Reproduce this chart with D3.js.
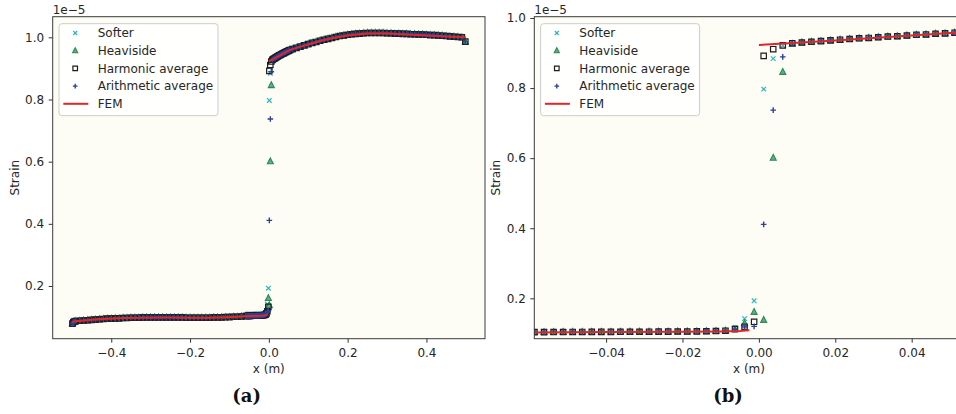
<!DOCTYPE html>
<html>
  <head>
    <meta charset="utf-8" />
    <title>Strain across the interface</title>
    <style>
      body { margin: 0; background: #fff; }
      svg { display: block; font-family: "DejaVu Sans", sans-serif; }
    </style>
  </head>
  <body>
    <svg id="chart" width="956" height="414"></svg>
    <script src="https://d3js.org/d3.v7.min.js"></script>
    <script>
      // strain values are in units of 1e-5 (shown by the offset text)
      const seriesNames = ["Softer", "Heaviside", "Harmonic average", "Arithmetic average", "FEM"];

      // cell values where the four schemes coincide (left material)
      const sharedLeft = [
        [-0.49875, 0.079], [-0.49625, 0.084], [-0.49375, 0.086], [-0.49, 0.087], [-0.48, 0.088],
        [-0.47, 0.089], [-0.46, 0.09], [-0.45, 0.091], [-0.44, 0.092], [-0.43, 0.093],
        [-0.42, 0.094], [-0.41, 0.095], [-0.4, 0.095], [-0.39, 0.096], [-0.38, 0.096],
        [-0.37, 0.097], [-0.36, 0.097], [-0.35, 0.098], [-0.34, 0.098], [-0.33, 0.098],
        [-0.32, 0.099], [-0.31, 0.099], [-0.3, 0.099], [-0.29, 0.099], [-0.28, 0.099],
        [-0.27, 0.099], [-0.26, 0.099], [-0.25, 0.099], [-0.24, 0.099], [-0.23, 0.099],
        [-0.22, 0.099], [-0.21, 0.098], [-0.2, 0.098], [-0.19, 0.098], [-0.18, 0.098],
        [-0.17, 0.098], [-0.16, 0.098], [-0.15, 0.098], [-0.14, 0.099], [-0.13, 0.099],
        [-0.12, 0.099], [-0.11, 0.1], [-0.1, 0.1], [-0.09, 0.101], [-0.08, 0.101],
        [-0.07, 0.102],
        [-0.05875, 0.1035], [-0.05625, 0.1036], [-0.05375, 0.1037], [-0.05125, 0.1038],
        [-0.04875, 0.1039], [-0.04625, 0.104], [-0.04375, 0.1041], [-0.04125, 0.1042],
        [-0.03875, 0.1043], [-0.03625, 0.1044], [-0.03375, 0.1045], [-0.03125, 0.1046],
        [-0.02875, 0.1047], [-0.02625, 0.1048], [-0.02375, 0.105], [-0.02125, 0.1052],
        [-0.01875, 0.1054], [-0.01625, 0.1057], [-0.01375, 0.106], [-0.01125, 0.1065],
        [-0.00875, 0.1075]
      ];

      // cell values where the four schemes coincide (right material)
      const sharedRight = [
        [0.01125, 0.93], [0.01375, 0.932], [0.01625, 0.934], [0.01875, 0.936],
        [0.02125, 0.938], [0.02375, 0.94], [0.02625, 0.942], [0.02875, 0.943],
        [0.03125, 0.945], [0.03375, 0.947], [0.03625, 0.948], [0.03875, 0.95],
        [0.04125, 0.952], [0.04375, 0.953], [0.04625, 0.955], [0.04875, 0.956],
        [0.05125, 0.958], [0.05375, 0.959],
        [0.06, 0.962], [0.07, 0.966], [0.08, 0.97], [0.09, 0.974], [0.1, 0.978],
        [0.11, 0.982], [0.12, 0.985], [0.13, 0.989], [0.14, 0.992], [0.15, 0.995],
        [0.16, 0.998], [0.17, 1.001], [0.18, 1.004], [0.19, 1.006], [0.2, 1.008],
        [0.21, 1.01], [0.22, 1.011], [0.23, 1.012], [0.24, 1.013], [0.25, 1.014],
        [0.26, 1.014], [0.27, 1.014], [0.28, 1.014], [0.29, 1.014], [0.3, 1.013],
        [0.31, 1.013], [0.32, 1.012], [0.33, 1.012], [0.34, 1.011], [0.35, 1.011],
        [0.36, 1.01], [0.37, 1.01], [0.38, 1.009], [0.39, 1.009], [0.4, 1.008],
        [0.41, 1.007], [0.42, 1.007], [0.43, 1.006], [0.44, 1.005], [0.45, 1.004],
        [0.46, 1.003], [0.47, 1.002], [0.48, 1.001], [0.49, 1.0], [0.49875, 0.986]
      ];

      // cells next to the interface, where the schemes differ
      const interfaceX = [-0.00625, -0.00375, -0.00125, 0.00125, 0.00375, 0.00625, 0.00875];
      const softerNear = [0.117, 0.142, 0.193, 0.797, 0.884, 0.921, 0.927];
      const heavisideNear = [0.112, 0.129, 0.161, 0.138, 0.601, 0.846, 0.926];
      const harmonicNear = [0.112, 0.119, 0.133, 0.892, 0.911, 0.922, 0.928];
      const arithmeticNear = [0.111, 0.118, 0.12, 0.411, 0.737, 0.889, 0.927];

      // FEM reference solution, two pieces either side of x = 0
      const femLeft = [
        [-0.5, 0.084], [-0.49, 0.087], [-0.47, 0.089], [-0.44, 0.092], [-0.41, 0.095],
        [-0.37, 0.097], [-0.32, 0.098], [-0.26, 0.0985], [-0.2, 0.098], [-0.15, 0.098],
        [-0.11, 0.0995], [-0.08, 0.101], [-0.06, 0.1025], [-0.04, 0.1035], [-0.02, 0.1045],
        [-0.01, 0.1055], [-0.005, 0.107], [-0.0025, 0.109]
      ];
      const femRight = [
        [0, 0.923], [0.01, 0.929], [0.02, 0.936], [0.03, 0.943], [0.04, 0.95],
        [0.05, 0.957], [0.06, 0.962], [0.08, 0.97], [0.1, 0.977], [0.13, 0.988],
        [0.16, 0.997], [0.2, 1.006], [0.25, 1.012], [0.3, 1.012], [0.35, 1.009],
        [0.4, 1.006], [0.45, 1.003], [0.5, 1.0]
      ];

      const yTicks = [0.2, 0.4, 0.6, 0.8, 1.0];
      const xTicksA = [-0.4, -0.2, 0, 0.2, 0.4];
      const xTicksB = [-0.04, -0.02, 0, 0.02, 0.04];

      const textColor = "#262626";
      const svg = d3.select("#chart");

      function markerPath(type, r) {
        if (type == "x") return `M${-r},${-r}L${r},${r}M${-r},${r}L${r},${-r}`;
        if (type == "tri") return `M0,${-r * 1.15}L${r},${r * 0.8}L${-r},${r * 0.8}Z`;
        if (type == "sq") return `M${-r},${-r}H${r}V${r}H${-r}Z`;
        return `M${-r},0H${r}M0,${-r}V${r}`;
      }

      const styles = [
        { type: "x", r: 2.3, color: "#2ab7bd", width: 1.2, fill: "none" },
        { type: "tri", r: 3, color: "#2a8a55", width: 1.1, fill: "#5fae83" },
        { type: "sq", r: 2.7, color: "#1c1c1c", width: 1.2, fill: "none" },
        { type: "+", r: 2.8, color: "#2e3f98", width: 1.4, fill: "none" }
      ];
      const femColor = "#e3242b";

      function schemePoints(near) {
        const pts = sharedLeft.concat(interfaceX.map((x, i) => [x, near[i]]), sharedRight);
        return pts;
      }
      const schemes = [softerNear, heavisideNear, harmonicNear, arithmeticNear].map(schemePoints);

      function drawPanel(cfg) {
        const g = svg.append("g");
        const x = d3.scaleLinear().domain(cfg.xDomain).range([cfg.left, cfg.right]);
        const y = d3.scaleLinear().domain(cfg.yDomain).range([cfg.bottom, cfg.top]);
        const w = cfg.right - cfg.left,
          h = cfg.bottom - cfg.top;

        g.append("rect")
          .attr("x", cfg.left).attr("y", cfg.top)
          .attr("width", w).attr("height", h)
          .attr("fill", "#fdfdf6");

        g.append("clipPath").attr("id", cfg.id)
          .append("rect")
          .attr("x", cfg.left).attr("y", cfg.top)
          .attr("width", w).attr("height", h);

        const plot = g.append("g").attr("clip-path", "url(#" + cfg.id + ")");

        schemes.forEach(function (pts, i) {
          const s = styles[i];
          plot.append("g")
            .selectAll("path")
            .data(pts)
            .join("path")
            .attr("transform", (d) => "translate(" + x(d[0]) + "," + y(d[1]) + ")")
            .attr("d", markerPath(s.type, s.r))
            .attr("fill", s.fill)
            .attr("stroke", s.color)
            .attr("stroke-width", s.width);
        });

        const line = d3.line().x((d) => x(d[0])).y((d) => y(d[1]));
        [femLeft, femRight].forEach(function (seg) {
          plot.append("path")
            .attr("d", line(seg))
            .attr("fill", "none")
            .attr("stroke", femColor)
            .attr("stroke-width", 2);
        });

        // axes
        const xAxis = g.append("g")
          .attr("transform", "translate(0," + cfg.bottom + ")")
          .call(d3.axisBottom(x).tickValues(cfg.xTicks).tickFormat(d3.format(cfg.xFormat))
            .tickSize(4).tickPadding(5.5).tickSizeOuter(0));
        const yAxis = g.append("g")
          .attr("transform", "translate(" + cfg.left + ",0)")
          .call(d3.axisLeft(y).tickValues(yTicks).tickFormat(d3.format(".1f"))
            .tickSize(4).tickPadding(4.5).tickSizeOuter(0));
        [xAxis, yAxis].forEach(function (a) {
          a.select(".domain").remove();
          a.selectAll("line").attr("stroke", "#333");
          a.selectAll("text")
            .attr("fill", textColor)
            .style("font-size", "12px")
            .style("font-family", "DejaVu Sans");
        });

        g.append("rect")
          .attr("x", cfg.left).attr("y", cfg.top)
          .attr("width", w).attr("height", h)
          .attr("fill", "none")
          .attr("stroke", "#3a3a3a")
          .attr("stroke-width", 1);

        // offset text, axis labels and caption
        g.append("text")
          .attr("x", cfg.left).attr("y", 13.5)
          .attr("font-size", 12).attr("fill", textColor)
          .text("1e\u22125");
        g.append("text")
          .attr("x", cfg.labelX).attr("y", 372.5)
          .attr("text-anchor", "middle")
          .attr("font-size", 12).attr("fill", textColor)
          .text("x (m)");
        g.append("text")
          .attr("transform", "translate(" + (cfg.left - 34.2) + "," + (cfg.top + h / 2) + ") rotate(-90)")
          .attr("text-anchor", "middle")
          .attr("font-size", 12).attr("fill", textColor)
          .text("Strain");
        g.append("text")
          .attr("x", cfg.captionX).attr("y", 402)
          .attr("text-anchor", "middle")
          .attr("font-family", "DejaVu Serif")
          .attr("font-weight", "bold")
          .attr("font-size", 18)
          .attr("fill", "#111")
          .text(cfg.caption);

        // legend
        const lg = g.append("g").attr("transform", "translate(" + cfg.left + ",0)");
        lg.append("rect")
          .attr("x", 6.3).attr("y", 23.7)
          .attr("width", 159).attr("height", 92)
          .attr("rx", 3)
          .attr("fill", "#ffffff").attr("fill-opacity", 0.8)
          .attr("stroke", "#cccccc").attr("stroke-width", 1);
        seriesNames.forEach(function (name, i) {
          const ry = 33 + i * 17.7;
          if (i < 4) {
            const s = styles[i];
            lg.append("path")
              .attr("transform", "translate(22.5," + ry + ")")
              .attr("d", markerPath(s.type, s.r * 0.85))
              .attr("fill", s.fill)
              .attr("stroke", s.color)
              .attr("stroke-width", s.width);
          } else {
            lg.append("line")
              .attr("x1", 10.6).attr("x2", 35.6)
              .attr("y1", ry).attr("y2", ry)
              .attr("stroke", femColor).attr("stroke-width", 2);
          }
          lg.append("text")
            .attr("x", 45).attr("y", ry).attr("dy", "0.36em")
            .attr("font-size", 12).attr("fill", textColor)
            .text(name);
        });
      }

      drawPanel({
        id: "clipA",
        left: 52.7, right: 485, top: 16.7, bottom: 338.7,
        xDomain: [-0.5487, 0.5487], yDomain: [0.0305, 1.0663],
        xTicks: xTicksA, xFormat: ".1f",
        labelX: 268.8, caption: "(a)", captionX: 246.7
      });

      drawPanel({
        id: "clipB",
        left: 534.3, right: 964, top: 16.7, bottom: 338.7,
        xDomain: [-0.0588, 0.0537], yDomain: [0.0847, 1.0037],
        xTicks: xTicksB, xFormat: ".2f",
        labelX: 749, caption: "(b)", captionX: 728
      });
    </script>
  </body>
</html>
